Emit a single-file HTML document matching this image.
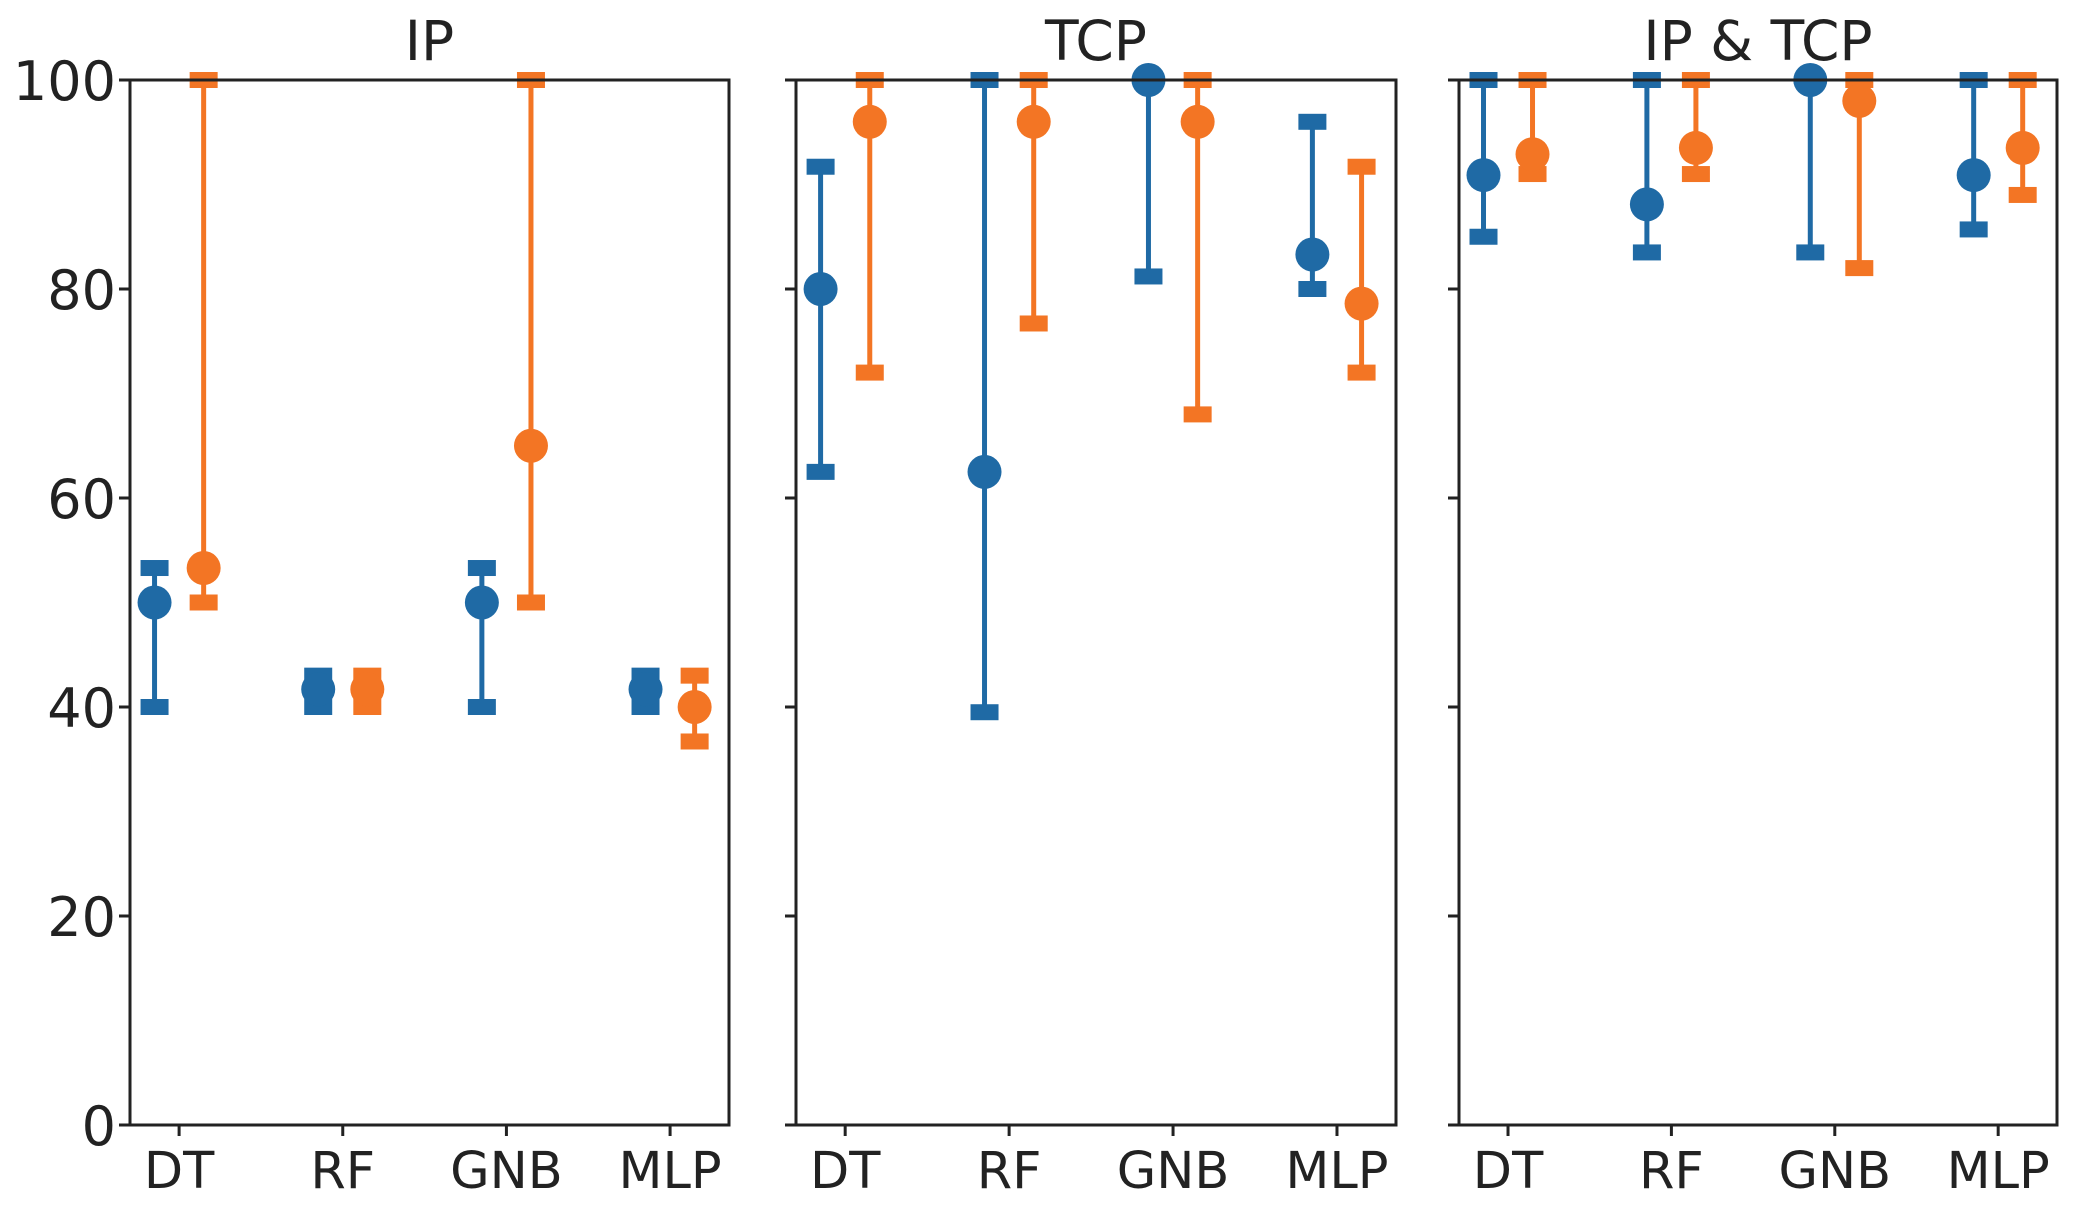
<!DOCTYPE html>
<html><head><meta charset="utf-8"><style>
html,body{margin:0;padding:0;background:#fff}
svg{display:block;font-family:"DejaVu Sans","Liberation Sans",sans-serif}
</style></head><body>
<svg id="chart" width="2084" height="1213" viewBox="0 0 2084 1213" xmlns="http://www.w3.org/2000/svg"></svg>
<script>
const categories = ["DT","RF","GNB","MLP"];
const panelTitles = ["IP","TCP","IP & TCP"];
const yTicks = [0,20,40,60,80,100];
// series: [value, low, high]
const blueIP  = [[50,40,53.3],[41.7,40,43],[50,40,53.3],[41.7,40,43]];
const orangeIP= [[53.3,50,100],[41.7,40,43],[65,50,100],[40,36.7,43]];
const blueTCP = [[80,62.5,91.7],[62.5,39.5,100],[100,81.2,100],[83.3,80,96]];
const orangeTCP=[[96,72,100],[96,76.7,100],[96,68,100],[78.6,72,91.7]];
const blueBoth= [[90.9,85,100],[88.1,83.5,100],[100,83.5,100],[90.9,85.7,100]];
const orangeBoth=[[92.9,91,100],[93.5,91,100],[98,82,100],[93.5,89,100]];
const blueSeries=[blueIP,blueTCP,blueBoth];
const orangeSeries=[orangeIP,orangeTCP,orangeBoth];

const NS="http://www.w3.org/2000/svg";
const svgEl=document.getElementById("chart");
const panels=[{l:130,r:729},{l:796,r:1396},{l:1459,r:2057}];
const plotTop=80,plotBottom=1125;
const xmin=-0.3,xmax=3.36;
const yScale=v=>plotBottom-(v/100)*(plotBottom-plotTop);
function mk(tag,attrs){const e=document.createElementNS(NS,tag);for(const k in attrs)e.setAttribute(k,attrs[k]);return e;}
const BLUE="#1f6aa5",ORANGE="#f37524";

panels.forEach((p,pi)=>{
  const g=mk("g",{});
  
  
  svgEl.appendChild(g);
  const xScale=c=>p.l+(c-xmin)/(xmax-xmin)*(p.r-p.l);
  const t=mk("text",{x:(p.l+p.r)/2,y:60,"text-anchor":"middle","font-size":55,fill:"#222"});
  t.textContent=panelTitles[pi];
  
  
  g.appendChild(t);
  yTicks.forEach(v=>{
    const y=yScale(v);
    g.appendChild(mk("line",{x1:p.l-11,x2:p.l,y1:y,y2:y,stroke:"#222","stroke-width":3}));
    if(pi===0){
      const tl=mk("text",{x:p.l-14,y:y+20,"text-anchor":"end","font-size":54,fill:"#222"});
      tl.textContent=v;
      
      
      g.appendChild(tl);
    }
  });
  categories.forEach((c,i)=>{
    const x=xScale(i);
    g.appendChild(mk("line",{x1:x,x2:x,y1:plotBottom,y2:plotBottom+11,stroke:"#222","stroke-width":3}));
    const tl=mk("text",{x:x,y:plotBottom+63,"text-anchor":"middle","font-size":51,fill:"#222"});
    tl.textContent=c;
    
    
    g.appendChild(tl);
  });
  [[blueSeries[pi],BLUE,-0.15,'blue'],[orangeSeries[pi],ORANGE,0.15,'orange']].forEach(([ser,col,off,nm])=>{
    ser.forEach((d,i)=>{
      const x=xScale(i+off);
      const gg=mk("g",{});
      
      
      gg.appendChild(mk("line",{x1:x,x2:x,y1:yScale(d[1]),y2:yScale(d[2]),stroke:col,"stroke-width":5}));
      [d[1],d[2]].forEach(v=>gg.appendChild(mk("rect",{x:x-14,y:yScale(v)-8,width:28,height:16,fill:col})));
      gg.appendChild(mk("circle",{cx:x,cy:yScale(d[0]),r:17,fill:col}));
      g.appendChild(gg);
    });
  });
  const fr=mk("rect",{x:p.l,y:plotTop,width:p.r-p.l,height:plotBottom-plotTop,fill:"none",stroke:"#222","stroke-width":3});
  
  
  g.appendChild(fr);
});
</script>
</body></html>
